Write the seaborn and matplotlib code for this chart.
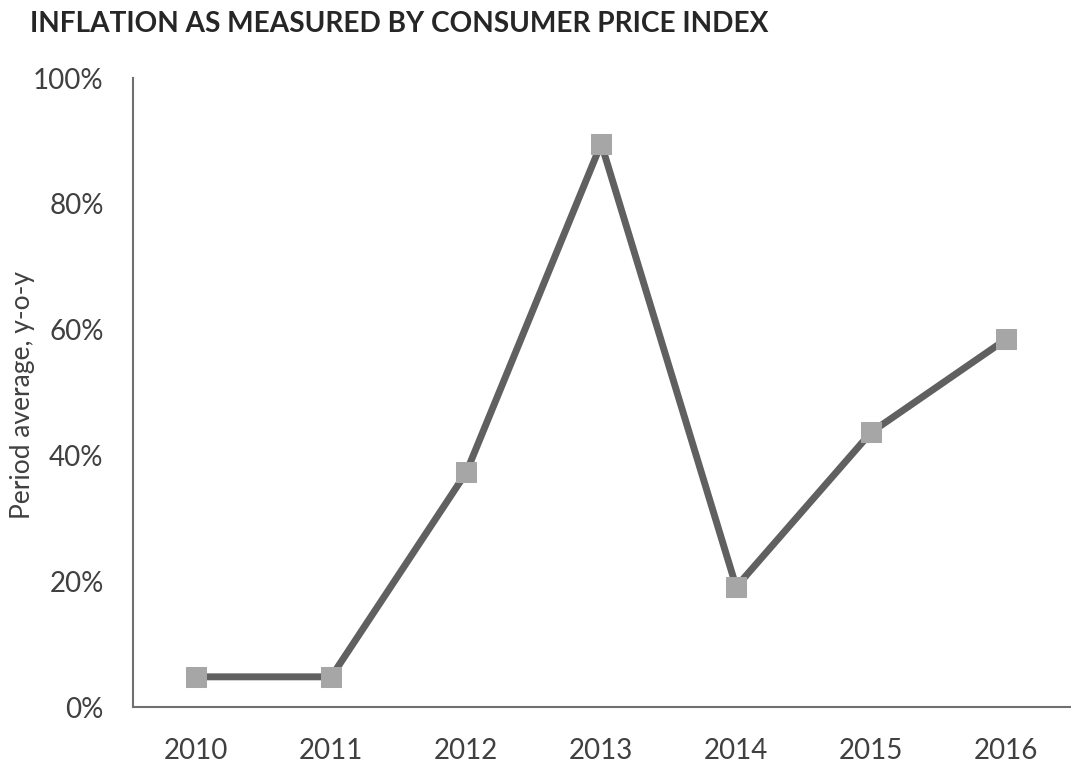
import matplotlib
matplotlib.use("Agg")
import matplotlib.pyplot as plt
import seaborn as sns
import pandas as pd
from matplotlib.ticker import PercentFormatter

# Inflation values
years = ["2010", "2011", "2012", "2013", "2014", "2015", "2016"]
inflation = [0.048, 0.048, 0.373, 0.896, 0.191, 0.437, 0.585]
yticks = [0, 0.2, 0.4, 0.6, 0.8, 1.0]

df = pd.DataFrame({"year": years, "inflation": inflation})

sns.set_theme(style="white")
plt.rcParams["font.family"] = ["Lato", "DejaVu Sans"]

text_color = "#404040"
fig = plt.figure(figsize=(10.71, 7.64), dpi=100)
ax = fig.add_axes([0.124, 0.0746, 0.876, 0.823])

sns.lineplot(data=df, x="year", y="inflation", ax=ax, color="#606060",
             linewidth=5, marker="s", markersize=14,
             markerfacecolor="#a6a6a6", markeredgecolor="#a6a6a6", sort=False)

ax.set_ylim(0, 1.0)
ax.set_xlim(-0.47, 6.48)
ax.set_yticks(yticks)
ax.yaxis.set_major_formatter(PercentFormatter(1.0, decimals=0))
ax.tick_params(axis="both", length=0, labelsize=20, colors=text_color)
ax.tick_params(axis="x", pad=22)
ax.tick_params(axis="y", pad=21)
ax.set_xlabel("")
ax.set_ylabel("Period average, y-o-y", fontsize=19, color=text_color)
ax.yaxis.set_label_coords(-0.104, 0.496)

for side in ["top", "right"]:
    ax.spines[side].set_visible(False)
for side in ["left", "bottom"]:
    ax.spines[side].set_color("#707070")
    ax.spines[side].set_linewidth(1.5)

fig.text(0.028, 0.968, "INFLATION AS MEASURED BY CONSUMER PRICE INDEX",
         fontsize=20.2, fontweight="bold", color="#262626", va="center", ha="left")

fig.savefig("out.png", dpi=100)
